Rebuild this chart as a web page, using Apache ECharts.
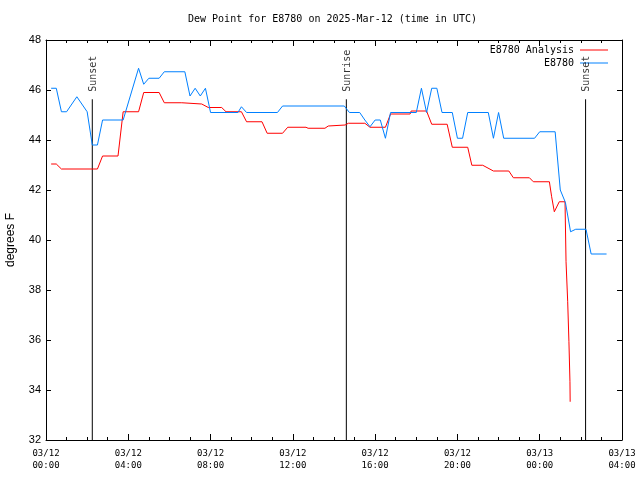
<!DOCTYPE html>
<html>
<head>
<meta charset="utf-8">
<script src="https://cdn.jsdelivr.net/npm/echarts@6/dist/echarts.min.js"></script>
<style>html,body{margin:0;padding:0;background:#fff;}#chart{width:640px;height:480px;}</style>
</head>
<body>
<div id="chart"></div>
<script>
// Hours after 03/12 00:00 UTC
const analysisHours = [0.25,0.5,0.75,2.5,2.75,3.5,3.75,4.5,4.75,5.5,5.75,6.6,6.67,7.57,7.89,8.54,8.75,9.5,9.75,10.5,10.75,11.5,11.75,12.64,12.74,13.56,13.72,14.54,14.7,15.5,15.75,16.5,16.75,17.7,17.75,18.5,18.75,19.5,19.75,20.5,20.7,21.23,21.75,22.5,22.72,23.5,23.69,24.47,24.58,24.71,24.95,25.23,25.28,25.36,25.42,25.47,25.48];
const analysisValues = [43.04,43.04,42.84,42.84,43.36,43.36,45.13,45.13,45.9,45.9,45.49,45.49,45.44,45.44,45.3,45.3,45.13,45.13,44.73,44.73,44.27,44.27,44.51,44.51,44.47,44.47,44.56,44.6,44.67,44.67,44.51,44.51,45.04,45.04,45.16,45.16,44.63,44.63,43.71,43.71,42.99,42.99,42.76,42.76,42.49,42.49,42.33,42.33,41.73,41.13,41.53,41.53,39.13,37.53,35.93,34.33,33.53];

const obsHours = [0.25,0.5,0.75,1.0,1.5,2.0,2.25,2.5,2.75,3.75,4.5,4.75,5.0,5.5,5.75,6.75,7.0,7.25,7.5,7.75,8.0,9.33,9.5,9.75,11.25,11.5,14.5,14.75,15.25,15.5,15.75,16.0,16.25,16.5,16.75,18.0,18.25,18.5,18.75,19.0,19.25,19.75,20.0,20.25,20.5,21.5,21.75,22.0,22.25,23.75,24.0,24.75,25.0,25.25,25.5,25.75,26.25,26.5,27.25];
const obsValues = [46.07,46.07,45.13,45.13,45.73,45.13,43.8,43.8,44.8,44.8,46.87,46.23,46.47,46.47,46.73,46.73,45.76,46.07,45.76,46.07,45.1,45.1,45.33,45.1,45.1,45.36,45.36,45.1,45.1,44.8,44.53,44.8,44.8,44.07,45.1,45.1,46.07,45.1,46.07,46.07,45.1,45.1,44.07,44.07,45.1,45.1,44.07,45.1,44.07,44.07,44.33,44.33,42.0,41.5,40.33,40.43,40.43,39.44,39.44];

const eventNames = ['Sunset','Sunrise','Sunset'];
const eventHours = [2.25,14.6,26.23];

const xTickHours = [0,4,8,12,16,20,24,28];
const xTickLabels = ['03/12\n00:00','03/12\n04:00','03/12\n08:00','03/12\n12:00','03/12\n16:00','03/12\n20:00','03/13\n00:00','03/13\n04:00'];

const seriesNames = ['E8780 Analysis','E8780'];

const zip = (a,b) => a.map((v,i)=>[v,b[i]]);
const MONO = '"DejaVu Sans Mono", "Liberation Mono", monospace';
const SANS = '"Liberation Sans", Arial, sans-serif';
const EVENT_LINE_TOP = 45.63;
const LABEL_CENTER = {Sunset: 46.65, Sunrise: 46.77};

const baseX = {
  type: 'value', min: 0, max: 28, interval: 4,
  axisLine: {show: true, lineStyle: {color: '#000', width: 1}},
  axisTick: {show: true, inside: true, length: 6, lineStyle: {color: '#000'}},
  minorTick: {show: true, splitNumber: 4, length: 3, lineStyle: {color: '#000'}},
  splitLine: {show: false}, minorSplitLine: {show: false}
};
const baseY = {
  type: 'value', min: 32, max: 48, interval: 2,
  axisLine: {show: true, onZero: false, lineStyle: {color: '#000', width: 1}},
  axisTick: {show: true, inside: true, length: 5, lineStyle: {color: '#000'}},
  splitLine: {show: false}
};

const series = [
  {name: seriesNames[0], type: 'line', data: zip(analysisHours, analysisValues), showSymbol: false, symbol: 'none',
   lineStyle: {color: '#ff0000', width: 1}, itemStyle: {color: '#ff0000'}, z: 3, animation: false},
  {name: seriesNames[1], type: 'line', data: zip(obsHours, obsValues), showSymbol: false, symbol: 'none',
   lineStyle: {color: '#0080ff', width: 1}, itemStyle: {color: '#0080ff'}, z: 4, animation: false}
];
eventHours.forEach((h, i) => {
  series.push({name: 'ev' + i, type: 'line', data: [[h, 32], [h, EVENT_LINE_TOP]], showSymbol: false, symbol: 'none',
    lineStyle: {color: '#000', width: 1}, z: 2, animation: false, silent: true});
  series.push({name: 'evl' + i, type: 'scatter', data: [[h + 0.05, LABEL_CENTER[eventNames[i]]]], symbolSize: 0,
    label: {show: true, position: 'inside', rotate: 90, formatter: eventNames[i], color: '#000',
            fontFamily: MONO, fontSize: 10}, z: 5, animation: false, silent: true});
});

const chart = echarts.init(document.getElementById('chart'), null, {renderer: 'canvas'});
chart.setOption({
  animation: false,
  backgroundColor: '#fff',
  title: {text: 'Dew Point for E8780 on 2025-Mar-12 (time in UTC)', left: 188, top: 14, padding: 0,
          textStyle: {fontFamily: MONO, fontSize: 10, fontWeight: 'normal', color: '#000'}},
  legend: {data: seriesNames, orient: 'vertical', right: 27, top: 39, align: 'right', itemGap: 1,
           icon: 'rect', itemWidth: 28, itemHeight: 1,
           textStyle: {fontFamily: MONO, fontSize: 10, color: '#000', lineHeight: 12, padding: [0, 1, 0, 0]}},
  grid: {left: 46, right: 18, top: 40, bottom: 40, containLabel: false, outerBoundsMode: 'none'},
  xAxis: [
    Object.assign({}, baseX, {position: 'bottom',
      axisLabel: {show: true, margin: 7, fontFamily: MONO, fontSize: 9, lineHeight: 12.5, color: '#000',
        formatter: v => { const i = xTickHours.indexOf(v); return i >= 0 ? xTickLabels[i] : ''; }}}),
    Object.assign({}, baseX, {position: 'top', axisLabel: {show: false}})
  ],
  yAxis: [
    Object.assign({}, baseY, {position: 'left', name: 'degrees F', nameLocation: 'middle', nameRotate: 90, nameGap: 29,
      nameTextStyle: {fontFamily: SANS, fontSize: 12, color: '#000'},
      axisLabel: {show: true, margin: 5, fontFamily: SANS, fontSize: 11, color: '#000'}}),
    Object.assign({}, baseY, {position: 'right', axisLabel: {show: false}})
  ],
  series: series
});
</script>
</body>
</html>
